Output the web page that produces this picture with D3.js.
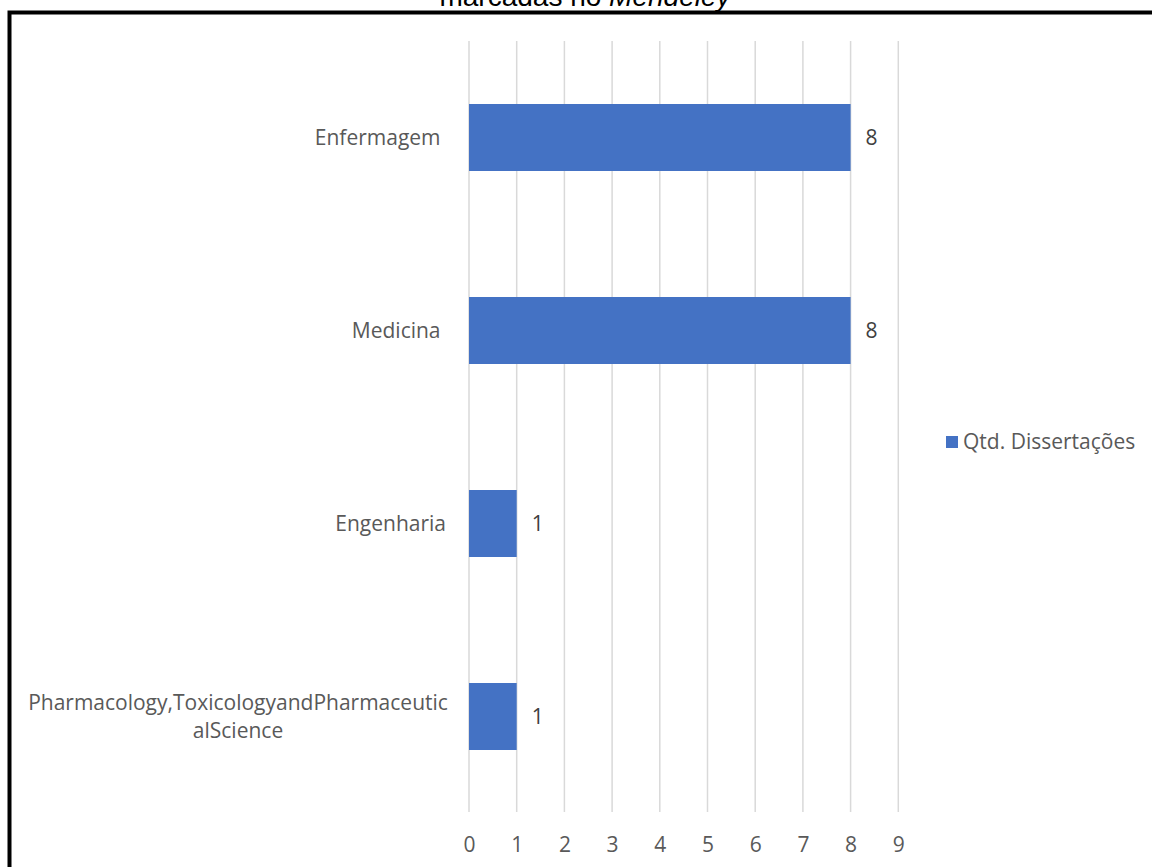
<!DOCTYPE html>
<html>
<head>
<meta charset="utf-8">
<script src="https://cdn.jsdelivr.net/npm/d3@7"></script>
<style>
  html, body { margin: 0; padding: 0; background: #fff; }
  svg { display: block; }
</style>
</head>
<body>
<svg id="chart" width="1152" height="867"></svg>
<script>
// Áreas de conhecimento e quantidade de dissertações
const categories = ["Enfermagem", "Medicina", "Engenharia", "Pharmacology,ToxicologyandPharmaceuticalScience"];
const categoryLines = [["Enfermagem "], ["Medicina "], ["Engenharia"], ["Pharmacology,ToxicologyandPharmaceutic", "alScience"]];
const values = [8, 8, 1, 1];
const xTicks = [0, 1, 2, 3, 4, 5, 6, 7, 8, 9];
const seriesName = "Qtd. Dissertações";

const svg = d3.select("#chart");
const font = "'Open Sans', sans-serif";
const fs = 21;

// Título (parcialmente cortado no topo)
const title = svg.append("text")
  .attr("x", 585).attr("y", 6)
  .attr("text-anchor", "middle")
  .attr("font-family", "'Liberation Sans', Arial, sans-serif")
  .attr("font-size", 28)
  .attr("fill", "#000");
title.append("tspan").text("marcadas no ");
title.append("tspan").attr("font-style", "italic").text("Mendeley");

// Moldura do gráfico
svg.append("rect")
  .attr("x", 9.5).attr("y", 12.5)
  .attr("width", 1200).attr("height", 900)
  .attr("fill", "none")
  .attr("stroke", "#000")
  .attr("stroke-width", 4);

const plotLeft = 469, plotTop = 41, plotBottom = 813;

const x = d3.scaleLinear().domain([0, 9]).range([plotLeft, plotLeft + 9 * 47.7]);
const gap = 1 - 67 / 193;
const y = d3.scaleBand().domain(categories).range([plotTop, plotBottom])
  .paddingInner(gap).paddingOuter(gap / 2);

// Linhas de grade verticais
svg.append("g").selectAll("line").data(xTicks).join("line")
  .attr("x1", d => x(d)).attr("x2", d => x(d))
  .attr("y1", plotTop).attr("y2", 812)
  .attr("stroke", "#d9d9d9").attr("stroke-width", 1.5);

// Rótulos do eixo X
const xAxis = d3.axisBottom(x).tickValues(xTicks).tickSize(0).tickPadding(0);
const gx = svg.append("g").attr("transform", "translate(0,845)").call(xAxis);
gx.select(".domain").remove();
gx.selectAll("text")
  .attr("dy", "0.35em")
  .attr("font-family", font).attr("font-size", fs)
  .attr("fill", "#595959");

// Barras
svg.append("g").selectAll("rect").data(categories).join("rect")
  .attr("x", x(0))
  .attr("y", d => y(d))
  .attr("width", (d, i) => x(values[i]) - x(0))
  .attr("height", y.bandwidth())
  .attr("fill", "#4472c4");

// Rótulos de valores
svg.append("g").selectAll("text").data(categories).join("text")
  .attr("x", (d, i) => x(values[i]) + 15)
  .attr("y", d => y(d) + y.bandwidth() / 2)
  .attr("dy", "0.35em")
  .attr("font-family", font).attr("font-size", fs)
  .attr("fill", "#404040")
  .text((d, i) => values[i]);

// Rótulos das categorias
const labelRight = 446;
categories.forEach((c, i) => {
  const lines = categoryLines[i];
  const cy = y(c) + y.bandwidth() / 2;
  const t = svg.append("text")
    .attr("font-family", font).attr("font-size", fs)
    .attr("fill", "#595959")
    .style("white-space", "pre");
  if (lines.length === 1) {
    t.attr("x", labelRight).attr("y", cy).attr("dy", "0.35em")
      .attr("text-anchor", "end").text(lines[0]);
  } else {
    const lh = 28;
    const cx = 238;
    lines.forEach((l, j) => {
      t.append("tspan")
        .attr("x", cx)
        .attr("y", cy + (j - (lines.length - 1) / 2) * lh)
        .attr("dy", "0.35em")
        .attr("text-anchor", "middle")
        .text(l);
    });
  }
});

// Legenda
const lg = svg.append("g").attr("transform", "translate(946,436)");
lg.append("rect").attr("width", 12).attr("height", 12).attr("fill", "#4472c4");
lg.append("text").attr("x", 17).attr("y", 6).attr("dy", "0.35em")
  .attr("font-family", font).attr("font-size", fs)
  .attr("fill", "#595959").text(seriesName);
</script>
</body>
</html>
